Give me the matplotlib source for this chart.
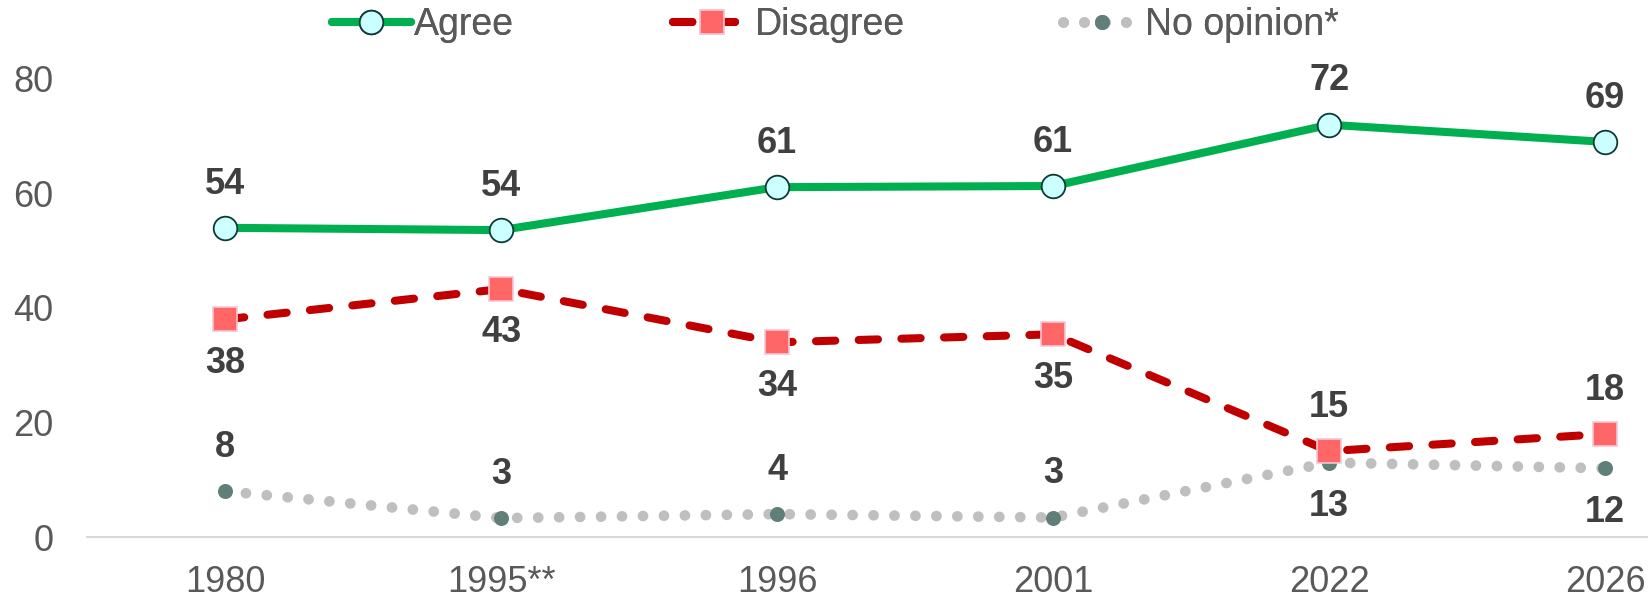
import matplotlib.pyplot as plt

# Data
years = ['1980', '1995**', '1996', '2001', '2022', '2026']
agree = [54, 53.6, 61.1, 61.3, 72, 69]
disagree = [38, 43.3, 34, 35.4, 15, 18]
no_opinion = [8, 3.3, 4, 3.4, 13, 12]

# which side of the point each label sits on (+1 above, -1 below)
agree_side = [1, 1, 1, 1, 1, 1]
disagree_side = [-1, -1, -1, -1, 1, 1]
noop_side = [1, 1, 1, 1, -1, -1]

plt.rcParams['font.family'] = ['Liberation Sans', 'DejaVu Sans']

fig = plt.figure(figsize=(16.48, 5.98), dpi=100)
ax = fig.add_axes([0.0528, 0.102, 1.005, 0.766])

x = range(len(years))

l3, = ax.plot(x, no_opinion, color='#BFBFBF', lw=7.7, dashes=(0.01, 1.95),
              dash_capstyle='round', marker='o', ms=10.8, mfc='#5F7F78',
              mec='#5F7F78', mew=0, clip_on=False, zorder=2)
l2, = ax.plot(x, disagree, color='#C00000', lw=5.8, dashes=(2.4, 2.9),
              dash_capstyle='round', marker='s', ms=17, mfc='#FF6666',
              mec='#F4C6D6', mew=1.2, clip_on=False, zorder=3)
l1, = ax.plot(x, agree, color='#00B050', lw=5.8, solid_capstyle='round',
              marker='o', ms=17, mfc='#CCFFFF', mec='#0B3B35', mew=1.3,
              clip_on=False, zorder=4)

def label(vals, sides):
    for i, (v, s) in enumerate(zip(vals, sides)):
        ax.annotate(f'{round(v):d}', (i, v), xytext=(0, 31.5 * s),
                    textcoords='offset points', ha='center', va='center',
                    fontsize=26, fontweight='bold', color='#404040',
                    annotation_clip=False)

label(agree, agree_side)
label(disagree, disagree_side)
label(no_opinion, noop_side)

ax.set_xlim(-0.5, 5.5)
ax.set_ylim(0, 80)
ax.set_yticks([0, 20, 40, 60, 80])
ax.set_xticks(list(x))
ax.set_xticklabels(years)
ax.tick_params(axis='both', length=0, labelsize=26, labelcolor='#595959')
ax.tick_params(axis='x', pad=20)
ax.tick_params(axis='y', pad=24)
for s in ['top', 'right', 'left']:
    ax.spines[s].set_visible(False)
ax.spines['bottom'].set_color('#D9D9D9')
ax.spines['bottom'].set_linewidth(1.5)

# legend entries placed one by one to match the uneven spacing
entries = [(l1, 'Agree', 332), (l2, 'Disagree', 673), (l3, 'No opinion*', 1063)]
for h, name, px in entries:
    fig.add_artist(fig.legend([h], [name], loc='center left',
                              bbox_to_anchor=(px / 1648, 1 - 25 / 598),
                              frameon=False, fontsize=27, handlelength=2.1,
                              handletextpad=0.08, borderpad=0, borderaxespad=0,
                              labelcolor='#595959'))

fig.savefig('out.png', dpi=100)
